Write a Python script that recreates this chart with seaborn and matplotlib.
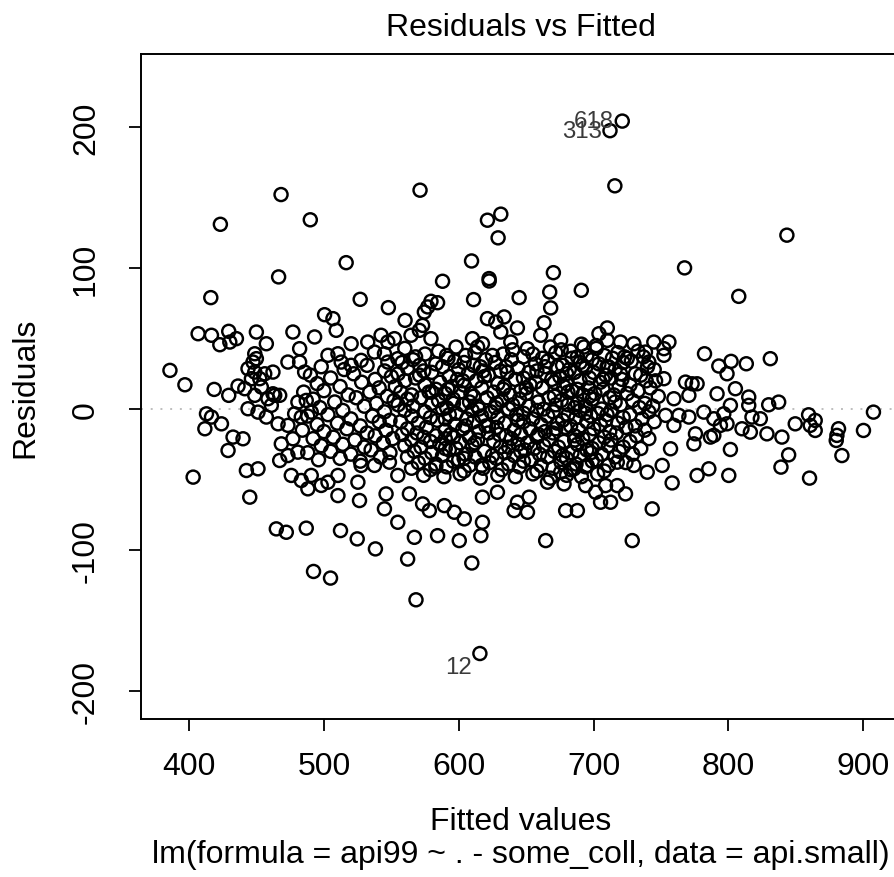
import numpy as np
import pandas as pd
import matplotlib
matplotlib.use("Agg")
import matplotlib.pyplot as plt
import seaborn as sns

# --- Data (fitted value, residual) ---
# sparse points around the edge of the cloud
OUTER_POINTS = [
    (468.2, 152.1), (423.2, 131.0), (489.9, 134.2), (516.5, 103.8), (466.4, 93.7),
    (416.1, 79.0), (526.9, 77.8), (547.8, 71.9), (500.5, 66.9), (506.7, 64.1),
    (571.3, 155.2), (715.8, 158.3), (631.2, 138.2), (621.3, 133.9), (629.2, 121.4),
    (609.5, 105.0), (588.0, 90.6), (622.6, 90.8), (622.5, 92.5), (670.2, 96.7),
    (690.9, 84.2), (667.5, 83.0), (668.2, 71.7), (644.8, 79.0), (611.0, 77.6),
    (579.4, 76.4), (584.3, 75.4), (577.0, 72.4), (574.5, 68.8), (560.2, 62.9),
    (621.3, 64.1), (633.7, 65.3), (627.5, 61.7), (663.3, 61.2), (643.5, 57.5),
    (710.2, 57.5), (573.2, 59.3), (843.4, 123.3), (767.5, 100.1), (807.7, 79.9),
    (406.7, 53.4), (416.6, 52.3), (422.8, 45.6), (430.2, 47.5), (435.1, 49.9),
    (429.4, 55.1), (449.9, 54.6), (457.3, 46.3), (477.0, 54.6), (493.1, 51.1),
    (509.1, 55.8), (448.7, 39.2), (449.9, 35.7), (447.4, 33.3), (520.2, 46.3),
    (532.5, 47.5), (542.4, 52.3), (547.4, 47.5), (552.3, 49.9),
    (385.8, 27.4), (396.9, 17.2), (418.6, 13.9), (429.4, 9.7), (436.3, 16.3),
    (443.7, 28.6), (448.7, 26.2), (456.1, 25.0), (462.2, 26.2), (473.3, 33.3),
    (482.0, 33.3), (482.0, 42.8), (485.7, 26.2), (503.0, 38.1), (510.4, 39.2),
    (512.8, 33.3), (520.2, 31.0), (527.6, 34.5), (537.5, 40.4), (544.9, 39.2),
    (547.4, 33.3), (554.8, 35.7),
    (412.9, -3.4), (416.6, -5.7), (424.0, -10.5), (411.7, -14.0), (432.6, -19.9),
    (440.0, -21.1), (428.9, -29.4), (443.7, 0.2), (451.1, -2.2), (457.3, -5.7),
    (461.0, 2.6), (463.5, 9.7), (466.0, -10.5), (473.3, -11.6), (478.3, -3.4),
    (480.7, 4.9), (483.2, -5.7), (486.9, 6.1), (490.6, -2.2),
    (441.3, 14.4), (448.7, 9.7), (453.6, 15.6), (458.5, 7.3), (462.2, 10.8),
    (467.2, 9.7), (446.2, 21.5), (452.4, 21.5),
    (468.4, -24.7), (477.0, -21.1), (473.3, -33.0), (467.2, -36.5), (480.7, -30.6),
    (442.5, -43.6), (451.1, -42.4), (403.0, -48.3), (445.0, -62.5),
    (475.8, -47.1), (483.2, -50.7), (490.6, -47.1), (488.1, -56.6), (498.0, -54.2),
    (503.0, -51.9), (510.4, -47.1), (510.4, -61.4), (525.2, -51.9), (526.4, -64.9),
    (546.1, -60.2), (544.9, -70.8), (554.8, -80.3), (537.5, -40.0), (527.6, -40.0),
    (548.6, -37.7), (554.8, -47.1),
    (464.7, -85.0), (472.1, -87.4), (486.9, -84.5), (512.3, -86.2), (524.7, -92.1),
    (538.2, -99.2), (492.3, -115.2), (504.9, -119.9), (568.3, -135.3), (609.7, -109.2),
    (562.1, -106.4),
    (563.4, -60.2), (573.2, -67.3), (578.2, -72.0), (589.3, -68.5), (596.7, -73.2),
    (604.1, -77.9), (617.6, -62.5), (617.6, -80.3), (628.7, -59.0), (643.5, -66.1),
    (652.2, -62.5), (651.0, -73.2), (641.1, -72.0), (665.8, -51.9), (678.1, -53.1),
    (679.3, -72.0), (688.0, -72.0), (694.1, -54.3), (701.5, -59.0), (708.9, -54.3),
    (717.6, -54.3), (723.7, -60.2), (705.2, -66.1), (712.6, -66.1), (743.5, -70.8),
    (739.8, -44.8), (729.9, -40.0), (717.6, -37.7), (695.3, -40.0), (685.5, -42.4),
    (675.6, -44.8),
    (567.1, -91.0), (584.3, -89.8), (600.4, -93.3), (616.4, -89.8), (664.5, -93.3),
    (728.7, -93.3),
    (564.6, 52.3), (579.4, 49.9), (570.8, 55.8), (610.2, 49.9), (617.6, 46.3),
    (631.2, 54.6), (638.6, 47.5), (650.9, 42.8), (660.8, 52.3), (675.6, 48.7),
    (692.9, 44.0), (704.0, 53.4), (710.2, 48.7), (720.0, 47.5), (729.9, 46.3),
    (738.5, 40.4), (744.7, 47.5), (741.0, 33.3),
    (755.9, 47.5), (752.2, 42.8), (752.2, 38.1), (782.3, 39.2), (792.9, 30.5),
    (802.0, 33.8), (799.0, 25.0), (813.3, 32.1), (831.1, 35.7), (752.2, 21.5),
    (768.2, 19.1), (773.1, 17.9), (776.8, 17.9), (770.7, 9.7), (805.2, 14.4),
    (791.6, 10.8), (801.5, 2.6), (815.1, 8.5), (815.1, 2.6), (829.9, 3.0),
    (837.3, 4.9), (759.6, 7.3), (753.4, -4.5), (763.3, -4.5), (770.7, -5.7),
    (759.6, -11.6), (781.8, -2.2), (789.2, -6.9), (796.6, -3.4), (799.0, -10.5),
    (794.1, -11.6), (817.5, -5.7), (823.7, -6.9), (810.1, -14.0), (816.3, -16.4),
    (828.6, -17.6), (839.7, -19.9), (786.7, -19.9), (789.2, -18.7), (775.6, -17.6),
    (774.4, -24.7), (757.1, -28.2), (801.5, -28.7), (750.9, -40.0), (844.7, -32.5),
    (839.0, -41.2), (776.8, -47.1), (785.5, -42.4), (800.3, -47.1), (758.3, -52.4),
    (860.2, -49.0), (849.6, -10.5), (859.5, -4.1), (864.4, -8.1), (864.4, -15.2),
    (860.7, -11.6), (881.7, -14.0), (880.5, -18.7), (880.0, -22.3), (884.2, -33.0),
    (900.2, -15.2), (907.6, -2.2),
]

# dense part on the left side of the cloud (fitted ~480-555)
LEFT_CORE = [
    (498, 30), (515, 28), (532, 31), (545, 27), (490, 24), (505, 22), (522, 25),
    (538, 21), (550, 23), (495, 18), (512, 16), (528, 19), (541, 15), (485, 12),
    (500, 13), (518, 10), (534, 12), (547, 9), (492, 7), (508, 5), (524, 8),
    (539, 4), (552, 6), (497, 1), (514, -1), (530, 2), (545, -2), (488, -5),
    (503, -4), (520, -7), (536, -5), (549, -8), (495, -11), (510, -10), (527, -12),
    (541, -9), (484, -15), (500, -16), (517, -14), (532, -17), (546, -15), (492, -21),
    (507, -20), (523, -22), (538, -19), (551, -21), (498, -26), (514, -25), (530, -27),
    (544, -24), (488, -31), (505, -30), (520, -32), (535, -29), (549, -31), (496, -36),
    (512, -35), (527, -37), (542, -34),
]

# solid black centre of the cloud (fitted ~555-750)
CENTRE_CORE = [
    (560, 43), (585, 41), (598, 44), (612, 40), (640, 42), (655, 39), (668, 44),
    (683, 41), (695, 38), (702, 43), (718, 40), (725, 36), (733, 41),
    (568, 37), (575, 39), (592, 36), (605, 38), (620, 35), (633, 39), (648, 37),
    (662, 36), (672, 40), (688, 37), (699, 35), (708, 38), (714, 36), (722, 33), (737, 37),
    (558, 33), (566, 35), (583, 32), (597, 34), (611, 31), (627, 33), (639, 35),
    (657, 32), (666, 34), (677, 31), (690, 33), (704, 32), (711, 30), (728, 34), (745, 28),
    (562, 29), (574, 27), (588, 30), (600, 28), (616, 30), (631, 27), (644, 29),
    (652, 26), (673, 30), (682, 28), (694, 29), (700, 26), (716, 28), (731, 25), (740, 30),
    (555, 25), (571, 24), (580, 26), (593, 23), (607, 25), (622, 24), (636, 26),
    (648, 22), (664, 25), (675, 23), (686, 26), (697, 22), (709, 24), (721, 21),
    (735, 24), (746, 20),
    (560, 20), (568, 22), (586, 19), (599, 21), (613, 20), (619, 23), (629, 18),
    (642, 21), (657, 19), (669, 21), (680, 18), (690, 20), (705, 19), (713, 22),
    (727, 17), (739, 20),
    (553, 16), (575, 17), (583, 14), (595, 16), (604, 17), (617, 15), (634, 16),
    (646, 13), (653, 17), (662, 15), (678, 16), (684, 13), (696, 15), (707, 14),
    (719, 16), (733, 13), (742, 15),
    (557, 12), (565, 10), (578, 12), (590, 11), (601, 12), (611, 9), (626, 12),
    (638, 10), (650, 11), (671, 9), (681, 12), (692, 10), (701, 11), (712, 8),
    (725, 11), (748, 9),
    (562, 7), (572, 8), (585, 6), (596, 7), (608, 5), (621, 8), (632, 6), (645, 7),
    (659, 5), (667, 8), (676, 6), (688, 4), (699, 7), (716, 5), (729, 6), (738, 4),
    (555, 3), (566, 2), (580, 4), (591, 1), (603, 3), (614, 2), (627, 1), (640, 3),
    (652, 2), (663, 0), (672, 3), (686, 1), (694, 2), (706, 0), (720, 3), (734, 1), (744, 2),
    (560, -1), (575, -2), (588, 0), (598, -3), (610, -1), (624, -2), (637, 0),
    (648, -3), (658, -1), (670, -2), (681, -4), (690, -1), (703, -3), (713, -1),
    (727, -4), (741, -2),
    (565, -5), (579, -6), (593, -4), (606, -7), (617, -5), (629, -6), (643, -4),
    (655, -7), (666, -5), (677, -8), (687, -6), (698, -5), (709, -8), (722, -6), (736, -7),
    (557, -9), (570, -10), (584, -8), (597, -11), (611, -9), (620, -12), (634, -10),
    (648, -9), (661, -11), (673, -10), (683, -12), (695, -9), (705, -11), (718, -10),
    (731, -12), (745, -9),
    (562, -14), (576, -13), (590, -15), (603, -14), (615, -16), (628, -13), (641, -15),
    (653, -14), (664, -16), (679, -13), (689, -15), (700, -14), (712, -16), (724, -13), (738, -15),
    (558, -18), (569, -17), (583, -19), (594, -18), (608, -20), (622, -17), (635, -19),
    (646, -18), (658, -20), (670, -17), (686, -19), (697, -18), (708, -20), (717, -17), (732, -19),
    (565, -22), (579, -23), (590, -21), (601, -24), (614, -22), (626, -23), (639, -21),
    (651, -24), (667, -22), (678, -23), (692, -21), (704, -24), (713, -22), (727, -23), (741, -21),
    (560, -26), (572, -27), (586, -25), (598, -28), (610, -26), (631, -27), (644, -25),
    (656, -28), (663, -26), (674, -27), (688, -25), (699, -28), (711, -26), (722, -27),
    (567, -30), (580, -31), (593, -29), (605, -32), (619, -30), (634, -31), (649, -29),
    (660, -32), (671, -30), (684, -31), (695, -29), (706, -32), (719, -30), (735, -28),
    (562, -34), (575, -35), (588, -33), (600, -36), (612, -34), (628, -35), (641, -33),
    (654, -36), (666, -34), (680, -35), (690, -33), (702, -36), (716, -34), (729, -32),
    (570, -38), (583, -39), (596, -37), (608, -40), (623, -38), (637, -39), (648, -37),
    (661, -40), (676, -38), (687, -39), (699, -37), (711, -40), (724, -38),
    (565, -42), (579, -43), (591, -41), (604, -44), (618, -42), (632, -43), (645, -41),
    (658, -44), (670, -42), (683, -43), (694, -41), (708, -44),
    (574, -47), (589, -48), (601, -46), (616, -49), (629, -47), (642, -48), (655, -46),
    (668, -49), (680, -47), (691, -48), (703, -46),
]

# the darkest patches (fitted ~585-720), between the rows above
DARK_PATCH = [
    (591, 38), (604, 33), (618, 27), (603, 20), (592, 14), (609, 11), (596, 4),
    (615, 0), (590, -7), (605, -12), (596, -20), (612, -24), (590, -28), (604, -35),
    (617, -40), (625, -33), (622, -12), (628, 4), (633, 14), (637, -27), (630, -18),
    (676, 42), (684, 36), (692, 31), (680, 25), (671, 19), (688, 14), (697, 9),
    (681, 3), (694, -3), (672, -14), (686, -22), (698, -31), (677, -33), (664, 30),
    (707, 21), (715, 10), (710, -4), (702, 45), (691, 46), (659, -18), (646, -30),
    (574, -20), (580, 12), (571, 31), (583, -41), (710, 30), (720, 25), (723, 37),
    (650, 15), (658, 27), (644, -8), (635, 30), (625, 38), (614, 44),
]

# the three labelled observations
ID_NAMES = ["618", "313", "12"]
ID_FITTED = [721.3, 712.2, 615.7]
ID_RESID = [204.2, 197.4, -173.4]

X_TICKS = [400, 500, 600, 700, 800, 900]
Y_TICKS = [-200, -100, 0, 100, 200]

# --- Build the frame ---
pts = OUTER_POINTS + LEFT_CORE + CENTRE_CORE + DARK_PATCH + list(zip(ID_FITTED, ID_RESID))
df = pd.DataFrame(pts, columns=["fitted", "resid"])

sns.set_theme(style="ticks")
plt.rcParams["font.family"] = ["Liberation Sans", "DejaVu Sans"]
plt.rcParams["axes.unicode_minus"] = False
plt.rcParams["text.color"] = "black"
FS = 23

fig = plt.figure(figsize=(8.95, 8.78), dpi=100)
ax = fig.add_axes([0.1572, 0.1805, 0.8508, 0.7564])

ax.axhline(0, color="#bebebe", linestyle=(0, (1, 4)), linewidth=1.4, zorder=1)
sns.scatterplot(data=df, x="fitted", y="resid", ax=ax, marker="o", s=88,
                facecolor="none", edgecolor="black", linewidth=1.75, zorder=2)

for name, fx, ry in zip(ID_NAMES, ID_FITTED, ID_RESID):
    dy = -10 if ry < 0 else 0
    ax.annotate(name, (fx, ry), xytext=(-6, dy), textcoords="offset points",
                ha="right", va="center", fontsize=FS * 0.75, color="#3a3a3a")

ax.set_xlim(364.1, 928.9)
ax.set_ylim(-219.5, 251.5)
ax.set_xticks(X_TICKS)
ax.set_yticks(Y_TICKS)
ax.set_xlabel("")
ax.set_ylabel("")
ax.tick_params(axis="both", length=8.6, width=1.3, color="black", labelsize=FS, labelcolor="black")
ax.tick_params(axis="x", pad=15)
ax.tick_params(axis="y", pad=20)
for lab in ax.get_yticklabels():
    lab.set_rotation(90)
    lab.set_va("center")
for sp in ax.spines.values():
    sp.set_visible(True)
    sp.set_linewidth(1.4)
    sp.set_color("black")

fig.text(521 / 895, 1 - 28 / 878, "Residuals vs Fitted", ha="center", va="center", fontsize=FS)
fig.text(521 / 895, 1 - 822 / 878, "Fitted values", ha="center", va="center", fontsize=FS)
fig.text(521 / 895, 1 - 855 / 878, "lm(formula = api99 ~ . - some_coll, data = api.small)",
         ha="center", va="center", fontsize=FS)
fig.text(25 / 895, 1 - 388 / 878, "Residuals", ha="center", va="center", rotation=90, fontsize=FS)

fig.savefig("out.png", dpi=100, facecolor="white")
